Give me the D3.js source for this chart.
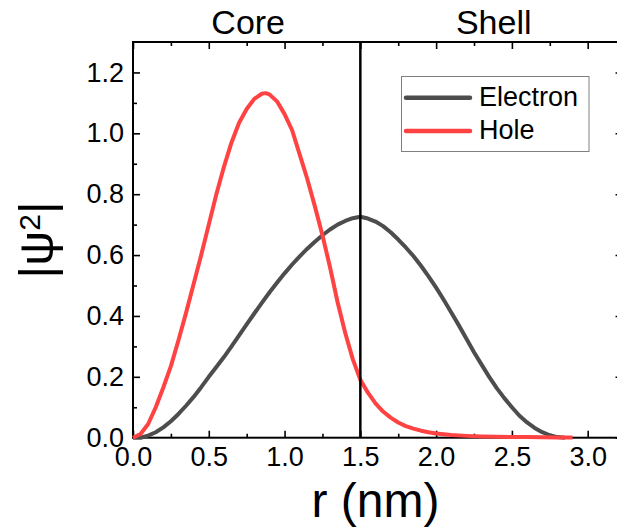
<!DOCTYPE html>
<html>
<head>
<meta charset="utf-8">
<script src="https://cdn.jsdelivr.net/npm/d3@7"></script>
<style>
  html, body { margin: 0; padding: 0; background: #fff; }
  svg { display: block; }
  text { font-family: "Liberation Sans", Arial, sans-serif; fill: #000; }
</style>
</head>
<body>
<svg id="chart" width="617" height="529"></svg>
<script>
// ---- data ----
const electronR = [0,0.05,0.1,0.15,0.2,0.25,0.3,0.35,0.4,0.45,0.5,0.55,0.6,0.65,0.7,0.75,0.8,0.85,0.9,0.95,1.0,1.05,1.1,1.15,1.2,1.25,1.3,1.35,1.4,1.45,1.5,1.55,1.6,1.65,1.7,1.75,1.8,1.85,1.9,1.95,2.0,2.05,2.1,2.15,2.2,2.25,2.3,2.35,2.4,2.45,2.5,2.55,2.6,2.65,2.7,2.75,2.8,2.85];
const electronPsi = [0,0,0.007,0.018,0.034,0.054,0.078,0.105,0.134,0.166,0.2,0.232,0.265,0.3,0.336,0.372,0.408,0.443,0.477,0.509,0.54,0.569,0.596,0.621,0.644,0.665,0.684,0.70,0.712,0.721,0.726,0.72,0.71,0.695,0.675,0.651,0.625,0.597,0.565,0.53,0.493,0.453,0.411,0.369,0.325,0.281,0.24,0.2,0.163,0.13,0.1,0.072,0.05,0.032,0.018,0.008,0.002,0];
const holeR = [0,0.05,0.1,0.15,0.2,0.25,0.3,0.35,0.4,0.45,0.5,0.55,0.6,0.65,0.7,0.75,0.8,0.85,0.875,0.9,0.95,1.0,1.05,1.1,1.15,1.2,1.25,1.3,1.35,1.4,1.45,1.5,1.55,1.6,1.65,1.7,1.75,1.8,1.85,1.9,1.95,2.0,2.1,2.2,2.3,2.4,2.6,2.8,2.9];
const holePsi = [0,0.012,0.045,0.1,0.165,0.235,0.32,0.41,0.505,0.6,0.7,0.8,0.89,0.97,1.035,1.08,1.113,1.13,1.132,1.128,1.105,1.063,1.01,0.93,0.85,0.76,0.665,0.56,0.445,0.345,0.258,0.19,0.148,0.113,0.086,0.066,0.05,0.038,0.03,0.023,0.018,0.014,0.009,0.006,0.004,0.003,0.002,0.001,0.001];
const seriesNames = ["Electron", "Hole"];
const regionLabels = ["Core", "Shell"];
const regionCenters = [0.76, 2.38];
const interfaceR = 1.5;
const xMajorTicks = [0, 0.5, 1.0, 1.5, 2.0, 2.5, 3.0];
const xMinorTicks = [0.25, 0.75, 1.25, 1.75, 2.25, 2.75];
const yMajorTicks = [0, 0.2, 0.4, 0.6, 0.8, 1.0, 1.2];
const yMinorTicks = [0.1, 0.3, 0.5, 0.7, 0.9, 1.1];

// ---- layout ----
const xMax = 3.23;
const pxPerUnit = 151.56;
const L = 133, T = 42, B = 437.7;
const R = L + xMax * pxPerUnit;
const colors = ["#4d4d4d", "#ff4242"];
const svg = d3.select("#chart");
const x = d3.scaleLinear().domain([0, xMax]).range([L, R]);
const y = d3.scaleLinear().domain([0, 1.3]).range([B, T]);
const fmt = d3.format(".1f");

function styleAxis(g) {
  g.select(".domain").remove();
  g.selectAll(".tick line").attr("stroke", "#000").attr("stroke-width", 1.6);
  g.selectAll(".tick text").style("font-size", "27px").attr("fill", "#000")
    .style("font-family", '"Liberation Sans", Arial, sans-serif');
}
// bottom
svg.append("g").attr("transform", `translate(0,${B})`)
  .call(d3.axisBottom(x).tickValues(xMajorTicks).tickFormat(fmt).tickSizeInner(-7).tickSizeOuter(0).tickPadding(9))
  .call(styleAxis)
  .call(g => g.selectAll(".tick text").attr("dy", "0.71em"));
svg.append("g").attr("transform", `translate(0,${B})`)
  .call(d3.axisBottom(x).tickValues(xMinorTicks).tickFormat("").tickSizeInner(-4).tickSizeOuter(0))
  .call(styleAxis);
// top
svg.append("g").attr("transform", `translate(0,${T})`)
  .call(d3.axisTop(x).tickValues(xMajorTicks).tickFormat("").tickSizeInner(-7).tickSizeOuter(0))
  .call(styleAxis);
svg.append("g").attr("transform", `translate(0,${T})`)
  .call(d3.axisTop(x).tickValues(xMinorTicks).tickFormat("").tickSizeInner(-4).tickSizeOuter(0))
  .call(styleAxis);
// left
svg.append("g").attr("transform", `translate(${L},0)`)
  .call(d3.axisLeft(y).tickValues(yMajorTicks).tickFormat(fmt).tickSizeInner(-7).tickSizeOuter(0).tickPadding(9))
  .call(styleAxis);
svg.append("g").attr("transform", `translate(${L},0)`)
  .call(d3.axisLeft(y).tickValues(yMinorTicks).tickFormat("").tickSizeInner(-4).tickSizeOuter(0))
  .call(styleAxis);
// right
svg.append("g").attr("transform", `translate(${R},0)`)
  .call(d3.axisRight(y).tickValues(yMajorTicks).tickFormat("").tickSizeInner(-7).tickSizeOuter(0))
  .call(styleAxis);
svg.append("g").attr("transform", `translate(${R},0)`)
  .call(d3.axisRight(y).tickValues(yMinorTicks).tickFormat("").tickSizeInner(-4).tickSizeOuter(0))
  .call(styleAxis);

// frame
svg.append("rect").attr("x", L).attr("y", T).attr("width", R - L).attr("height", B - T)
  .attr("fill", "none").attr("stroke", "#000").attr("stroke-width", 2);

// curves
const line = d3.line().x(d => x(d[0])).y(d => y(d[1]));
const eData = electronR.map((r, i) => [r, electronPsi[i]]);
const hData = holeR.map((r, i) => [r, holePsi[i]]);
svg.append("path").datum(eData).attr("d", line).attr("fill", "none")
  .attr("stroke", colors[0]).attr("stroke-width", 4).attr("stroke-linejoin", "round");
svg.append("path").datum(hData).attr("d", line).attr("fill", "none")
  .attr("stroke", colors[1]).attr("stroke-width", 4).attr("stroke-linejoin", "round");

// interface line
svg.append("line").attr("x1", x(interfaceR)).attr("x2", x(interfaceR)).attr("y1", T).attr("y2", B)
  .attr("stroke", "#000").attr("stroke-width", 2.5);

// region labels
regionLabels.forEach((t, i) => {
  svg.append("text").attr("x", x(regionCenters[i])).attr("y", 34)
    .attr("text-anchor", "middle").style("font-size", "34px").text(t);
});

// legend
const lg = svg.append("g");
lg.append("rect").attr("x", 401.5).attr("y", 76.5).attr("width", 187.5).attr("height", 75)
  .attr("fill", "#fff").attr("stroke", "#808080").attr("stroke-width", 1);
const legY = [97.7, 131];
seriesNames.forEach((n, i) => {
  lg.append("line").attr("x1", 406).attr("x2", 470).attr("y1", legY[i]).attr("y2", legY[i])
    .attr("stroke", colors[i]).attr("stroke-width", 4.5).attr("stroke-linecap", "round");
  lg.append("text").attr("x", 479).attr("y", legY[i] + 8).style("font-size", "27px").text(n);
});

// axis titles
svg.append("text").attr("x", x(1.6)).attr("y", 517).attr("text-anchor", "middle")
  .style("font-size", "48px").text("r (nm)");
const yt = svg.append("text").attr("transform", `translate(53,${(T + B) / 2}) rotate(-90)`)
  .attr("text-anchor", "middle").style("font-size", "49px");
yt.append("tspan").text("|\u03C8");
yt.append("tspan").attr("dy", "-0.45em").style("font-size", "30px").text("2");
yt.append("tspan").attr("dy", "0.28em").text("|");
</script>
</body>
</html>
